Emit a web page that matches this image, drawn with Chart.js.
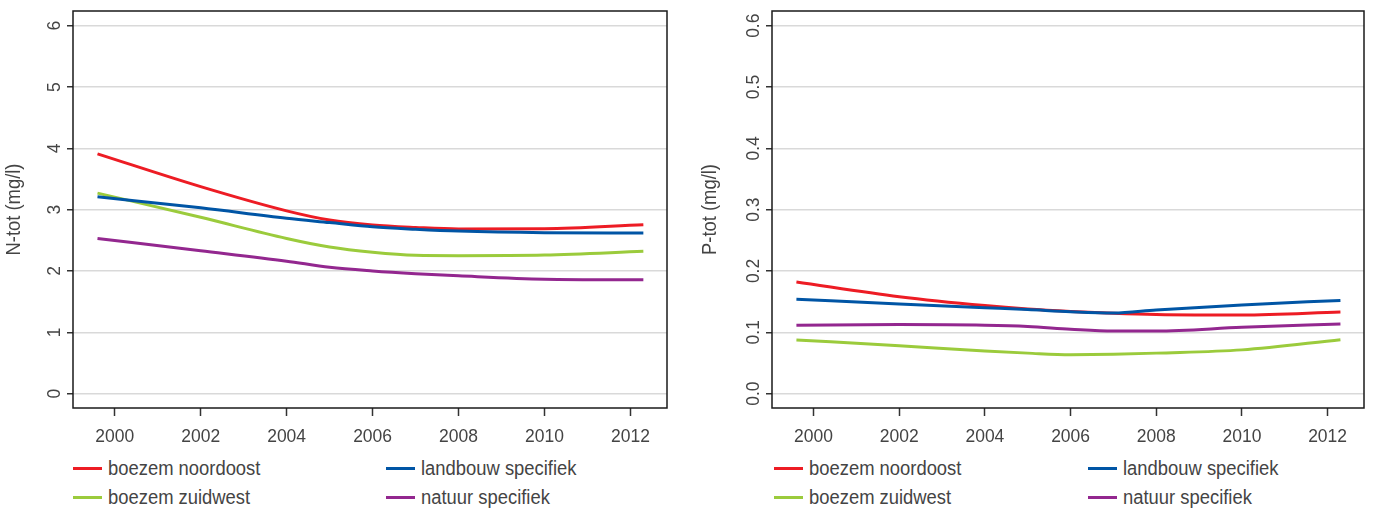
<!DOCTYPE html>
<html><head><meta charset="utf-8">
<script src="https://cdn.jsdelivr.net/npm/chart.js@4.4.1/dist/chart.umd.min.js"></script>
<style>
html,body{margin:0;padding:0;background:#fff;}
body{width:1376px;height:508px;position:relative;overflow:hidden;font-family:"Liberation Sans",Arial,sans-serif;color:#444;}
.wrap{position:absolute;top:0;height:450px;width:688px;}
.leg{position:absolute;height:30px;display:flex;align-items:center;font-size:20px;white-space:nowrap;}
.leg i{display:inline-block;width:29px;height:3px;margin-right:6px;flex:none;}
.leg span{display:inline-block;transform:scaleX(0.92);transform-origin:0 50%;}
</style></head><body>
<div class="wrap" style="left:0"><canvas id="c1"></canvas></div>
<div class="wrap" style="left:688px"><canvas id="c2"></canvas></div>
<div id="legend"></div>
<script>
// ---- data ----
const years = [1999.6, 2002, 2004, 2005, 2006, 2007, 2008, 2010, 2012.3];
const xTicks = [2000, 2002, 2004, 2006, 2008, 2010, 2012];
const seriesNames = ['boezem noordoost', 'landbouw specifiek', 'boezem zuidwest', 'natuur specifiek'];
const seriesColors = ['#ed1c24', '#0055a5', '#9bcb3c', '#93278f'];

// N-tot (mg/l)
const nBoezemNO   = [3.91, 3.375, 2.98, 2.83, 2.75, 2.71, 2.685, 2.69, 2.755];
const nLandbouw   = [3.21, 3.03, 2.86, 2.79, 2.72, 2.68, 2.65, 2.625, 2.62];
const nBoezemZW   = [3.27, 2.875, 2.53, 2.39, 2.305, 2.256, 2.25, 2.26, 2.32];
const nNatuur     = [2.53, 2.33, 2.16, 2.06, 2.0, 1.955, 1.92, 1.865, 1.855];
const nTickValues = [0, 1, 2, 3, 4, 5, 6];
const nTickLabels = ['0', '1', '2', '3', '4', '5', '6'];

// P-tot (mg/l)
const pBoezemNO   = [0.182, 0.158, 0.1435, 0.138, 0.134, 0.131, 0.129, 0.128, 0.133];
const pLandbouw   = [0.154, 0.146, 0.140, 0.137, 0.1335, 0.1315, 0.1365, 0.1446, 0.152];
const pBoezemZW   = [0.0876, 0.078, 0.0696, 0.066, 0.0633, 0.064, 0.066, 0.0713, 0.088];
const pNatuur     = [0.1115, 0.1125, 0.1115, 0.1095, 0.105, 0.102, 0.102, 0.108, 0.1136];
const pTickValues = [0, 0.1, 0.2, 0.3, 0.4, 0.5, 0.6];
const pTickLabels = ['0.0', '0.1', '0.2', '0.3', '0.4', '0.5', '0.6'];

const FONT = '"Liberation Sans", Arial, sans-serif';
const TXT = '#444';
const SQUEEZE = 0.92;

function drawText(ctx, text, x, y, rot, size) {
  ctx.save();
  ctx.translate(x, y);
  if (rot) ctx.rotate(rot);
  ctx.scale(SQUEEZE, 1);
  ctx.font = size + 'px ' + FONT;
  ctx.fillStyle = TXT;
  ctx.textAlign = 'center';
  ctx.textBaseline = 'alphabetic';
  ctx.fillText(text, 0, 0);
  ctx.restore();
}

const framePlugin = {
  id: 'frame',
  afterDraw(chart, args, o) {
    const {ctx, chartArea: a} = chart;
    const y = chart.scales.y, x = chart.scales.x;
    ctx.save();
    ctx.strokeStyle = '#1a1a1a';
    ctx.lineWidth = 1.5;
    ctx.strokeRect(a.left, a.top, a.right - a.left, a.bottom - a.top);
    ctx.restore();
    o.values.forEach((v, i) => {
      drawText(ctx, o.labels[i], a.left - o.labelOffset, y.getPixelForValue(v), -Math.PI / 2, 19);
    });
    xTicks.forEach(v => {
      drawText(ctx, String(v), x.getPixelForValue(v), a.bottom + 33.7, 0, 19);
    });
    drawText(ctx, o.title, a.left - o.titleOffset, (a.top + a.bottom) / 2, -Math.PI / 2, 20);
  }
};

function makeChart(id, series, yMin, yMax, tickVals, tickLabels, title, axisW, padRight, titleOffset) {
  const datasets = series.map((vals, i) => ({
    label: seriesNames[i],
    data: years.map((x, j) => ({x: x, y: vals[j]})),
    borderColor: seriesColors[i],
    borderWidth: 3,
    pointRadius: 0,
    fill: false,
    cubicInterpolationMode: 'monotone',
    order: [1, 0, 2, 3][i]
  }));
  return new Chart(document.getElementById(id), {
    type: 'line',
    data: {datasets},
    plugins: [framePlugin],
    options: {
      responsive: true,
      maintainAspectRatio: false,
      animation: false,
      layout: {padding: {top: 11, right: padRight, left: 0, bottom: 0}},
      plugins: {
        legend: {display: false},
        tooltip: {enabled: false},
        frame: {values: tickVals, labels: tickLabels, title: title, labelOffset: 13.5, titleOffset: titleOffset}
      },
      scales: {
        x: {
          type: 'linear',
          min: 1999.03, max: 2012.85,
          afterBuildTicks: s => { s.ticks = xTicks.map(v => ({value: v})); },
          afterFit: s => { s.height = 42; },
          border: {display: false},
          grid: {drawOnChartArea: false, tickLength: 8, tickColor: '#333', tickWidth: 1.5},
          ticks: {display: false}
        },
        y: {
          type: 'linear',
          min: yMin, max: yMax,
          afterBuildTicks: s => { s.ticks = tickVals.map(v => ({value: v})); },
          afterFit: s => { s.width = axisW; },
          border: {display: false},
          grid: {color: '#d9d9d9', lineWidth: 1.5, tickLength: 6, tickColor: '#333', tickWidth: 1.5},
          ticks: {display: false}
        }
      }
    }
  });
}

makeChart('c1', [nBoezemNO, nLandbouw, nBoezemZW, nNatuur], -0.235, 6.24,
          nTickValues, nTickLabels, 'N-tot (mg/l)', 73, 21, 53.5);
makeChart('c2', [pBoezemNO, pLandbouw, pBoezemZW, pNatuur], -0.0235, 0.624,
          pTickValues, pTickLabels, 'P-tot (mg/l)', 84, 12, 56);

// ---- legends ----
const legendPos = [
  {x: 73, y: 468}, {x: 386, y: 468}, {x: 73, y: 497}, {x: 386, y: 497},
  {x: 774, y: 468}, {x: 1088, y: 468}, {x: 774, y: 497}, {x: 1088, y: 497}
];
const legendEl = document.getElementById('legend');
legendPos.forEach((p, k) => {
  const i = k % 4;
  const d = document.createElement('div');
  d.className = 'leg';
  d.style.left = p.x + 'px';
  d.style.top = (p.y - 15) + 'px';
  const sw = document.createElement('i');
  sw.style.background = seriesColors[i];
  const t = document.createElement('span');
  t.textContent = seriesNames[i];
  d.appendChild(sw); d.appendChild(t);
  legendEl.appendChild(d);
});
</script>
</body></html>
